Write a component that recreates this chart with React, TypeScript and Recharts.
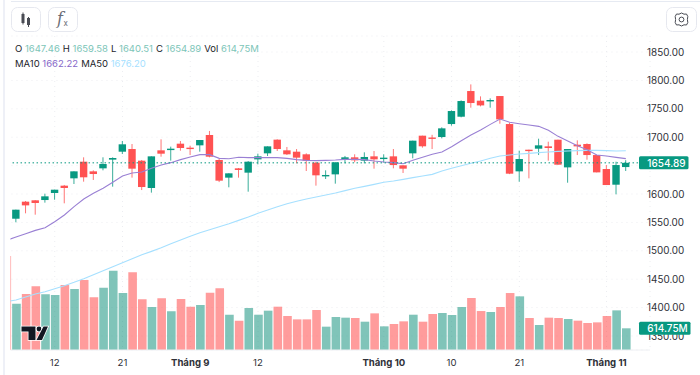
import React from "react";
import { ComposedChart, Bar, Line, XAxis, YAxis, CartesianGrid, ReferenceLine, Cell } from "recharts";

const dates = ["08-05","08-06","08-07","08-08","08-11","08-12","08-13","08-14","08-15","08-18","08-19","08-20","08-21","08-22","08-25","08-26","08-27","08-28","08-29","09-03","09-04","09-05","09-08","09-09","09-10","09-11","09-12","09-15","09-16","09-17","09-18","09-19","09-22","09-23","09-24","09-25","09-26","09-29","09-30","10-01","10-02","10-03","10-06","10-07","10-08","10-09","10-10","10-13","10-14","10-15","10-16","10-17","10-20","10-21","10-22","10-23","10-24","10-27","10-28","10-29","10-30","10-31","11-03","11-04","11-05","11-06","11-07"];
const opens = [null,1556.5,1586.5,1588.9,1589.4,1601.8,1614.7,1627.6,1656.9,1639.9,1645.2,1660.5,1674.5,1679.2,1658.7,1610.6,1676.9,1677.5,1688.6,1681.6,1685.7,1703.9,1659.9,1628.8,1645.2,1637.6,1661,1671.6,1695.7,1676.9,1674.5,1669.9,1655.2,1632.9,1634.6,1660.5,1664.6,1658.7,1666.3,1662.8,1666.3,1650.5,1671.6,1702.7,1699.5,1700.3,1723.2,1736.1,1781.3,1764.3,1763.7,1772.5,1723.2,1639.9,1678,1679.8,1683.9,1695.6,1646.9,1686.8,1688,1668.6,1644,1616.4,1647.46,null,null];
const highs = [null,1572.4,1587.7,1589.2,1600.6,1607.6,1615.9,1640,1664.6,1641.7,1664.6,1664.6,1693.3,1688,1659.9,1666.3,1696.3,1683.4,1693.3,1685.1,1695.1,1711,1662,1636.4,1645.8,1658,1671,1683.9,1696.3,1682.8,1679.2,1671.6,1656.4,1641.7,1655.8,1667,1669.9,1673.4,1675.7,1669.9,1679.2,1650.5,1693.9,1702.7,1704.2,1717.4,1747.3,1764.9,1793,1771.9,1768.4,1772.5,1725.6,1676.3,1678,1697.4,1692.1,1695.6,1679.2,1694.5,1689.2,1668.6,1651,1656.9,1659.58,null,null];
const lows = [null,1550.2,1566,1563.6,1584.8,1590,1583.6,1617.6,1621.7,1624.7,1641.7,1612.9,1670.4,1628.8,1607,1602.4,1665.7,1658.7,1676.3,1668.7,1674.5,1664.6,1621,1611.8,1628.8,1604.1,1652.2,1666.9,1675.7,1668.7,1654,1640.5,1614.7,1626.4,1618.2,1654,1655.8,1654,1644.6,1655.2,1645.2,1637,1662.8,1681.6,1679.2,1698,1720.3,1735,1752,1754.3,1752,1723.8,1635,1621.7,1627.6,1668.6,1658.7,1651.6,1619.9,1668.6,1660.4,1638.1,1615.8,1599.4,1640.51,null,null];
const closes = [null,1572.4,1580,1584.2,1595.9,1607.6,1610.6,1639.9,1629.4,1635.2,1652.8,1663.4,1687.5,1644.6,1612.3,1666.3,1671,1679.8,1681,1679.8,1695.1,1665.7,1623.5,1636.4,1642.3,1656.9,1666.3,1683.9,1679.2,1669.9,1664,1658.7,1632.9,1633.5,1655.8,1664.6,1659.3,1665.2,1661,1664,1651,1644.6,1693.9,1684,1697.2,1715.6,1746.1,1763.7,1760.2,1756,1765.5,1731.4,1635.8,1661.6,1675.7,1685.7,1681,1651.6,1679.2,1683.9,1668.6,1638.1,1615.8,1651,1654.89,null,null];
const volumes = [2663,1312,1586,1803,1577,1558,1841,1728,1982,1492,1765,2247,1614,2200,1435,1218,1463,1095,1444,1227,1274,1624,1746,1000,826,1189,1000,1114,1227,963,868,868,1133,661,935,916,906,802,1038,670,736,812,1000,802,1020,1048,991,1218,1473,1104,1076,1218,1614,1520,906,708,916,906,878,831,765,783,963,1123,614.75,null,null];
const ma10 = [1518.4,1524.3,1530.2,1536,1540.7,1551.3,1563,1577.7,1591.2,1601.2,1610,1620.6,1631.7,1637,1638.7,1645.2,1651,1655.2,1660.5,1665.2,1669.3,1669.3,1662.8,1662.2,1664.6,1664,1664,1664,1664,1662.8,1660.5,1659.3,1658.7,1659.3,1659.9,1661,1661,1660.5,1658.1,1656.4,1655.2,1653.4,1659.3,1664.6,1669.9,1673.9,1683.3,1693.9,1703.9,1712.7,1722.6,1732,1726.2,1723.8,1721.5,1719.1,1712.1,1701.5,1693.3,1685,1678,1668.6,1666.9,1664.5,1662.22,null,null];
const ma50 = [1410.4,1413.4,1418.6,1423.9,1428,1433.3,1438.6,1444.5,1450.9,1458,1465,1472,1479,1486.1,1493.2,1499,1505.5,1512.6,1519,1525.5,1531.9,1537.2,1542.5,1547.8,1553.6,1559.5,1566,1571.8,1577.7,1583,1587.1,1591.2,1594.7,1598.2,1601.8,1605.9,1610,1613.5,1617,1620.6,1622.9,1625.8,1628.8,1631.7,1634.6,1640.5,1645.2,1649.9,1654,1658.1,1662.8,1666.9,1668.6,1670.4,1671.6,1672.8,1673.9,1675.1,1675.7,1676.3,1676.9,1676.9,1676.3,1675.7,1676.2,null,null];

const priceTicks = [1350,1400,1450,1500,1550,1600,1650,1700,1750,1800,1850];
const priceTickCoveredByChip = 1650;
const timeTicks = ["08-12","08-21","09-03","09-12","10-01","10-10","10-21","11-03"];
const timeLabels = ["12","21","Tháng 9","12","Tháng 10","10","21","Tháng 11"];
const lastClose = 1654.89;
const lastVolume = 614.75;
const lastVolumeLabel = "614.75M";
const legendOhlc = [["O","1647.46"],["H","1659.58"],["L","1640.51"],["C","1654.89"],["Vol","614,75M"]];

const UP = "#089981";
const DOWN = "#FF5252";
const VOL_UP = "#028a73";
const VOL_DOWN = "#ff3a3a";
const FONT = "Inter, 'Liberation Sans', sans-serif";
const TEXT = "#2f3138";

const rows = dates.map((d, i) => ({
  date: d,
  open: opens[i],
  close: closes[i],
  range: highs[i] == null ? null : [lows[i], highs[i]],
  volume: volumes[i],
  ma10: ma10[i],
  ma50: ma50[i],
  high: highs[i],
  low: lows[i],
}));

const Candle = (p: any) => {
  const { x, y, width, height, payload } = p;
  if (payload.high == null || !height) return null;
  const k = height / (payload.high - payload.low);
  const up = payload.close >= payload.open;
  const color = up ? UP : DOWN;
  const top = y + (payload.high - Math.max(payload.open, payload.close)) * k;
  const bot = y + (payload.high - Math.min(payload.open, payload.close)) * k;
  const cx = x + width / 2;
  return (
    <g>
      <line x1={cx} x2={cx} y1={y} y2={y + height} stroke={color} strokeWidth={1} strokeOpacity={0.8} />
      <rect x={x} y={top} width={width} height={Math.max(bot - top, 1.4)} fill={color} />
    </g>
  );
};

const PriceTick = (p: any) =>
  p.payload.value === priceTickCoveredByChip ? <g /> : (
    <text x={647} y={p.y + 3.6} fontSize={9.9} fontFamily={FONT} fill={TEXT} textAnchor="start">
      {Number(p.payload.value).toFixed(2)}
    </text>
  );

const TimeTick = (p: any) => {
  const label = timeLabels[timeTicks.indexOf(p.payload.value)];
  const bold = label.startsWith("Tháng");
  return (
    <text x={p.x} y={366} fontSize={9.6} fontWeight={bold ? 700 : 400} fontFamily={FONT} fill={TEXT} textAnchor="middle">
      {label}
    </text>
  );
};

const chipTick = (text: string, chipWidth: number) => (p: any) => {
  const left = 639;
  const h = 13;
  return (
    <g>
      <rect x={left} y={p.y - h / 2} width={chipWidth} height={h} rx={1.5} fill={UP} />
      <text x={left + 8.3} y={p.y + 3.7} fontSize={10} fontWeight={500} fontFamily={FONT} fill="#fff" textAnchor="start">
        {text}
      </text>
    </g>
  );
};

const Btn = ({ x, w, children }: any) => (
  <svg style={{ position: "absolute", left: x, top: 7 }} width={w} height={25}>
    <rect x={0.5} y={0.5} width={w - 1} height={24} rx={6} fill="#fff" stroke="#e6e8ef" />
    {children}
  </svg>
);

export default function App() {
  return (
    <div style={{ position: "absolute", left: 0, top: 0, width: 700, height: 375, overflow: "hidden", background: "#fff", fontFamily: FONT }}>
      <div style={{ position: "absolute", left: 3, top: 0, width: 2, height: 375, background: "#eef0f7" }} />
      <div style={{ position: "absolute", left: 11, top: 1, width: 689, height: 1, background: "#e6eaf2" }} />
      <div style={{ position: "absolute", left: 0, top: 0, width: 700, height: 375, clipPath: "inset(0 0 0 10.4px)" }}>
        <ComposedChart width={700} height={375} data={rows} margin={{ top: 36, right: 0, bottom: 0, left: 1.48 }} barGap={0}>
          <CartesianGrid yAxisId="price" xAxisId="time" stroke="#ecedf1" strokeDasharray="1 4" />
          <XAxis xAxisId="time" dataKey="date" ticks={timeTicks} interval={0} height={25} tickLine={false} axisLine={{ stroke: "#eef0f3" }} tick={TimeTick} />
          <XAxis xAxisId="volx" dataKey="date" hide />
          <YAxis yAxisId="price" orientation="right" width={49.96} domain={[1325.35, 1878.2]} ticks={priceTicks} interval={0} tickLine={false} axisLine={false} tick={PriceTick} allowDataOverflow />
          <YAxis yAxisId="vol" orientation="right" mirror width={1} domain={[0, 8896]} ticks={[lastVolume]} interval={0} tickLine={false} axisLine={false} tick={chipTick(lastVolumeLabel, 51.5)} allowDataOverflow />
          <YAxis yAxisId="chip" orientation="right" mirror width={1} domain={[1325.35, 1878.2]} ticks={[lastClose]} interval={0} tickLine={false} axisLine={false} tick={chipTick(lastClose.toFixed(2), 49.5)} allowDataOverflow />
          <Bar xAxisId="volx" yAxisId="vol" dataKey="volume" barSize={8.6} isAnimationActive={false}>
            {rows.map((r) => (
              <Cell key={r.date} fill={r.open != null && r.close >= r.open ? VOL_UP : VOL_DOWN} fillOpacity={0.5} />
            ))}
          </Bar>
          <Bar xAxisId="time" yAxisId="price" dataKey="range" barSize={7.4} shape={Candle} isAnimationActive={false} />
          <Line xAxisId="time" yAxisId="price" dataKey="ma50" stroke="#a6e0ff" strokeWidth={1.1} dot={false} activeDot={false} isAnimationActive={false} />
          <Line xAxisId="time" yAxisId="price" dataKey="ma10" stroke="#9a80d4" strokeWidth={1.1} dot={false} activeDot={false} isAnimationActive={false} />
          <ReferenceLine xAxisId="time" yAxisId="price" y={lastClose} stroke={UP} strokeDasharray="1.5 2.5" />
        </ComposedChart>
      </div>

      <div style={{ position: "absolute", left: 15, top: 41.5, fontSize: 9.5, lineHeight: "13px", whiteSpace: "nowrap", color: "#22242b" }}>
        {legendOhlc.map(([k, v]) => (
          <span key={k} style={{ marginRight: 3 }}>{k} <span style={{ color: "#7cc5b8" }}>{v}</span></span>
        ))}
      </div>
      <div style={{ position: "absolute", left: 15, top: 56.5, fontSize: 9.5, lineHeight: "13px", whiteSpace: "nowrap", color: "#22242b" }}>
        <span style={{ marginRight: 3 }}>MA10 <span style={{ color: "#8566c8" }}>1662.22</span></span>
        <span>MA50 <span style={{ color: "#a6dfff" }}>1676.20</span></span>
      </div>

      <Btn x={11} w={30}>
        <rect x={10.5} y={7} width={3} height={9} fill="#4a4d55" />
        <line x1={12} x2={12} y1={5.5} y2={17.5} stroke="#4a4d55" />
        <rect x={16} y={11} width={3} height={7} fill="#4a4d55" />
        <line x1={17.5} x2={17.5} y1={10} y2={20} stroke="#4a4d55" />
      </Btn>
      <Btn x={48} w={30}>
        <text x={9} y={17} fontSize={16} fontFamily="'DejaVu Serif', serif" fontStyle="italic" fill="#6a6d76">f</text>
        <text x={15.5} y={19} fontSize={8} fontFamily={FONT} fill="#6a6d76">x</text>
      </Btn>
      <Btn x={666} w={31}>
        <g fill="none" stroke="#4a4d55" strokeWidth={1}>
          <circle cx={15.5} cy={12.5} r={2.4} />
          <path d="M15.5 6 L18 7.2 L20.5 7 L21.8 9.5 L21.4 12.5 L21.8 15.5 L20.5 18 L18 17.8 L15.5 19 L13 17.8 L10.5 18 L9.2 15.5 L9.6 12.5 L9.2 9.5 L10.5 7 L13 7.2 Z" strokeLinejoin="round" />
        </g>
      </Btn>

      <svg style={{ position: "absolute", left: 20, top: 325 }} width={30} height={17}>
        <g stroke="#fff" strokeWidth={1.6} paintOrder="stroke" fill="#131722">
          <path d="M1.5 1.5 H15.5 V15 H8.5 V6.5 H1.5 Z" />
          <circle cx={19} cy={4} r={2.4} />
          <path d="M23.5 1.5 H28 L22 15 H16.5 Z" />
        </g>
      </svg>
    </div>
  );
}
